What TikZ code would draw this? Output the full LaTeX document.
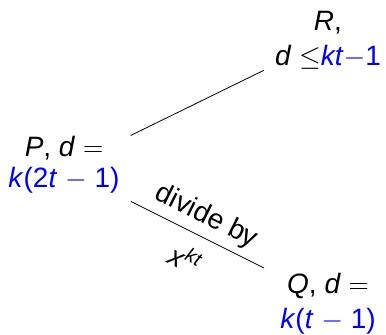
\RequirePackage{fix-cm}
\documentclass[tikz,border=0pt]{standalone}
\usepackage{fontspec}
\setmainfont{Liberation Sans}
\newcommand{\vv}[1]{\textit{#1}}
\tikzset{
  lbl/.style={align=center, inner sep=11bp, font=\fontsize{28bp}{35bp}\selectfont},
  elbl/.style={sloped, font=\fontsize{28bp}{34bp}\selectfont},
  conn/.style={draw=black, line width=0.8bp}
}
\begin{document}
\begin{tikzpicture}[x=1bp,y=1bp]
\useasboundingbox (0,0) rectangle (386,335);
\node[lbl, font=\fontsize{28bp}{31bp}\selectfont] (P) at (64,167) {\vv{P}, \vv{d} $=$\\\textcolor{blue}{\vv{k}(2\vv{t} $-$ 1)}\rule[-11.5bp]{0pt}{11.5bp}};
\node[lbl] (R) at (328,296) {\rule{0pt}{21bp}\vv{R},\\\vv{d} $\leq$\textcolor{blue}{\vv{kt}$-$1}};
\node[lbl, inner xsep=16bp] (Q) at (328,35) {\rule{0pt}{27bp}\vv{Q}, \vv{d} $=$\\\textcolor{blue}{\vv{k}(\vv{t} $-$ 1)}};
\draw[conn] (P) -- (R);
\draw[conn] (P) -- node[elbl, above, inner sep=6.5bp] {divide by} node[elbl, below, inner sep=14bp] {\vv{x}\textsuperscript{\vv{kt}}} (Q);
\end{tikzpicture}
\end{document}
